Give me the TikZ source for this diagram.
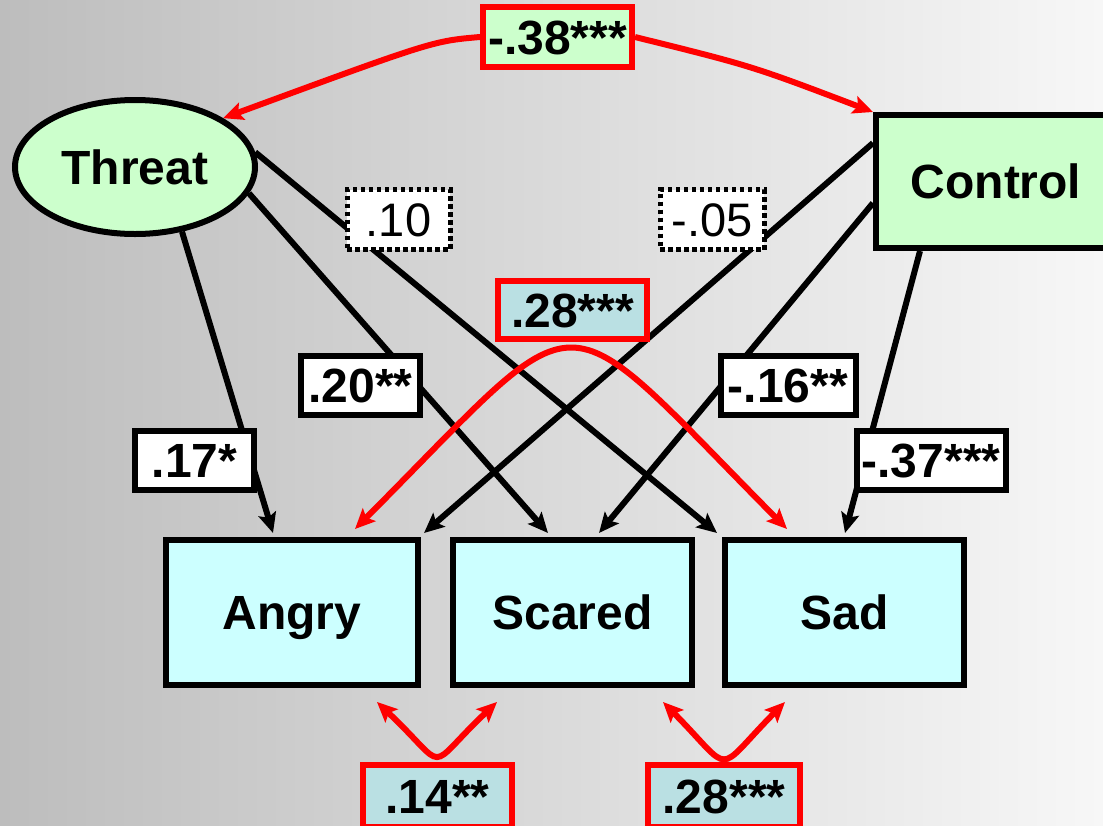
\documentclass[tikz,border=0pt]{standalone}
\usepackage{fontspec}
\setmainfont{Liberation Sans}
\usetikzlibrary{arrows.meta,calc,shapes.geometric}
\pgfdeclarelayer{bglayer}
\pgfdeclarelayer{edgelayer}
\pgfsetlayers{bglayer,edgelayer,main}
\definecolor{bgL}{RGB}{189,189,189}
\definecolor{bgR}{RGB}{247,247,247}
\definecolor{lgreen}{RGB}{204,255,204}
\definecolor{lcyan}{RGB}{204,255,255}
\definecolor{lteal}{RGB}{186,224,227}
\definecolor{myred}{RGB}{255,0,0}
\tikzset{
  bigbold/.style={font=\fontsize{48}{52}\selectfont\bfseries, text height=34pt, text depth=0pt},
  bigreg/.style={font=\fontsize{47}{52}\selectfont, text height=34pt, text depth=0pt},
  emo/.style={draw=black, line width=6pt, fill=lcyan, minimum height=145pt, inner sep=0pt, bigbold},
  exo/.style={draw=black, line width=6pt, fill=lgreen, inner sep=0pt, bigbold},
  lab/.style={draw=black, line width=6pt, fill=white, minimum height=59pt, inner sep=0pt, bigbold},
  nslab/.style={draw=black, line width=5pt, dash pattern=on 4.5pt off 3.5pt, fill=white, minimum height=60pt, inner sep=0pt, bigreg},
  covlab/.style={draw=myred, line width=6pt, inner sep=0pt, bigbold},
  blk/.style={draw=black, line width=6pt, -{Stealth[length=20pt,width=18pt,inset=4pt]}},
  redbi/.style={draw=myred, line width=6pt, {Stealth[length=20pt,width=18pt,inset=4pt]}-{Stealth[length=20pt,width=18pt,inset=4pt]}},
  redone/.style={draw=myred, line width=6pt, -{Stealth[length=20pt,width=18pt,inset=4pt]}}
}
\begin{document}
\begin{tikzpicture}[x=1pt,y=-1pt]
\useasboundingbox (0,0) rectangle (1103,825);
\clip (0,0) rectangle (1103,825);
\begin{pgfonlayer}{bglayer}
\shade[left color=bgL, right color=bgR] (0,0) rectangle (1103,825);
\end{pgfonlayer}

% main nodes
\node[exo, ellipse, minimum width=240pt, minimum height=134pt] (Threat) at (135,167) {Threat};
\node[exo, minimum width=240pt, minimum height=133pt] (Control) at (996,181.5) {Control};
\node[emo, minimum width=252pt] (Angry) at (292,612.5) {Angry};
\node[emo, minimum width=239pt] (Scared) at (572.5,612.5) {Scared};
\node[emo, minimum width=239pt] (Sad) at (844.5,612.5) {Sad};

% labels
\node[covlab, fill=lgreen, minimum width=149pt, minimum height=60pt] (L38) at (557.5,37) {-.38***};
\node[nslab, minimum width=103pt] (L10) at (398.5,219.5) {.10};
\node[nslab, minimum width=104pt] (L05) at (712,219.5) {-.05};
\node[covlab, fill=lteal, minimum width=149pt, minimum height=58pt] (L28m) at (572.5,310) {.28***};
\node[lab, minimum width=119pt] (L20) at (360.5,385.5) {.20**};
\node[lab, minimum width=135pt] (L16) at (788,385.5) {-.16**};
\node[lab, minimum width=119pt] (L17) at (194.5,460.5) {.17*};
\node[lab, minimum width=149pt] (L37) at (931,460.5) {-.37***};
\node[covlab, fill=lteal, minimum width=149pt, minimum height=62pt] (L14) at (437.5,796) {.14**};
\node[covlab, fill=lteal, minimum width=152pt, minimum height=62pt] (L28b) at (724,796) {.28***};

\begin{pgfonlayer}{edgelayer}
% Threat paths
\draw[blk] (Threat.-54) -- ($(Angry.north west)+(110,-4)$);
\draw[blk] (Threat.-13) -- ($(Scared.north west)+(98,-4)$);
\draw[blk] (Threat.7) -- ($(Sad.north west)+(-5,-4)$);
% Control paths
\draw[blk] ($(Control.north west)+(0,31)$) -- ($(Angry.north west)+(261,-4)$);
\draw[blk] ($(Control.north west)+(0,91)$) -- ($(Scared.north west)+(149,-4)$);
\draw[blk] ($(Control.south west)+(47,0)$) -- ($(Sad.north west)+(123,-4)$);
% covariance Threat-Control
\draw[redone] (L38.west) .. controls (433,41) .. (Threat.29);
\draw[redone] (L38.east) .. controls (752,66) .. (Control.north west);
% Angry-Sad residual covariance
\draw[redbi] ($(Angry.north west)+(192,-8)$) .. controls (592,291) and (550,290) .. ($(Sad.north west)+(65,-8)$);
% Angry-Scared
\draw[redbi] ($(Angry.south east)+(-44,14)$) .. controls (451,772) and (423,772) .. ($(Scared.south west)+(47,14)$);
% Scared-Sad
\draw[redbi] ($(Scared.south east)+(-32,14)$) .. controls (735,775) and (713,775) .. ($(Sad.south west)+(63,14)$);
\end{pgfonlayer}
\end{tikzpicture}
\end{document}
